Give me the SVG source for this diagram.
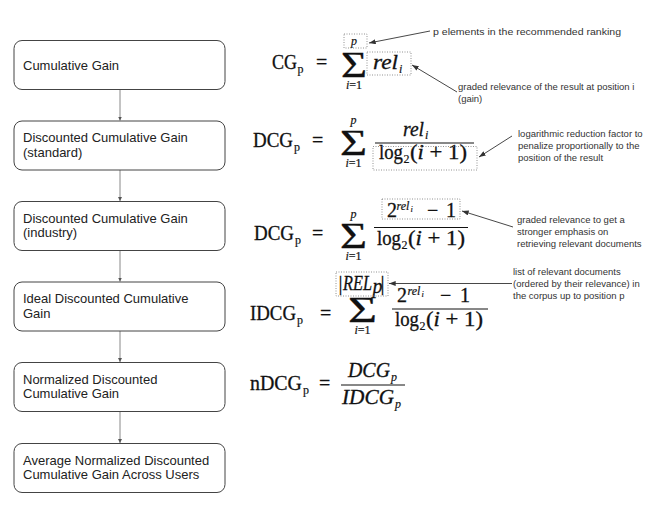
<svg xmlns="http://www.w3.org/2000/svg" width="667" height="514" viewBox="0 0 667 514">
<defs>
<style>
.box{fill:#fff;stroke:#444;stroke-width:1}
.lbl{font-family:"Liberation Sans",Arial,sans-serif;font-size:13px;fill:#222}
.ann{font-family:"Liberation Sans",Arial,sans-serif;font-size:9.5px;fill:#333}
.m{font-family:"Liberation Serif","Times New Roman",serif;font-size:20px;fill:#111;stroke:#111;stroke-width:0.3}
.mi{font-style:italic}
.s{font-size:12px;stroke-width:0.2}
.ss{font-size:8.5px;stroke-width:0.15}
.sig{font-size:36px}
.dot{fill:none;stroke:#777;stroke-width:0.8;stroke-dasharray:1 1.5}
.bar{stroke:#111;stroke-width:1}
.conn{stroke:#888;stroke-width:1;fill:none}
.ptr{stroke:#333;stroke-width:0.9;fill:none}
</style>
<marker id="ah" viewBox="0 0 6 6" refX="6" refY="3" markerWidth="4" markerHeight="4" markerUnits="userSpaceOnUse" orient="auto"><path d="M0,0 L6,3 L0,6 z" fill="#555"/></marker>
<marker id="ph" viewBox="0 0 8 6" refX="8" refY="3" markerWidth="7" markerHeight="5" markerUnits="userSpaceOnUse" orient="auto"><path d="M0,0 L8,3 L0,6 z" fill="#333"/></marker>
</defs>
<rect width="667" height="514" fill="#fff"/>

<g id="connectors">
<line class="conn" x1="120" y1="89.5" x2="120" y2="120.5" marker-end="url(#ah)"/>
<line class="conn" x1="120" y1="170" x2="120" y2="201" marker-end="url(#ah)"/>
<line class="conn" x1="120" y1="250.5" x2="120" y2="281.5" marker-end="url(#ah)"/>
<line class="conn" x1="120" y1="331" x2="120" y2="362" marker-end="url(#ah)"/>
<line class="conn" x1="120" y1="411.5" x2="120" y2="443" marker-end="url(#ah)"/>
<line class="ptr" x1="430" y1="31" x2="369" y2="43" marker-end="url(#ph)"/>
<line class="ptr" x1="457" y1="92" x2="412" y2="65" marker-end="url(#ph)"/>
<line class="ptr" x1="512" y1="136" x2="479" y2="157" marker-end="url(#ph)"/>
<line class="ptr" x1="513" y1="227" x2="462" y2="211" marker-end="url(#ph)"/>
<line class="ptr" x1="512" y1="283.5" x2="389" y2="283.5" marker-end="url(#ph)"/>
</g>

<g id="n1"><rect class="box" x="14" y="40.5" width="211" height="49" rx="8"/><text class="lbl" x="23" y="69.5">Cumulative Gain</text></g>
<g id="n2"><rect class="box" x="14" y="121" width="211" height="49" rx="8"/><text class="lbl" x="23" y="142">Discounted Cumulative Gain</text><text class="lbl" x="23" y="156.5">(standard)</text></g>
<g id="n3"><rect class="box" x="14" y="201.5" width="211" height="49" rx="8"/><text class="lbl" x="23" y="222.5">Discounted Cumulative Gain</text><text class="lbl" x="23" y="237">(industry)</text></g>
<g id="n4"><rect class="box" x="14" y="282" width="211" height="49" rx="8"/><text class="lbl" x="23" y="303">Ideal Discounted Cumulative</text><text class="lbl" x="23" y="317.5">Gain</text></g>
<g id="n5"><rect class="box" x="14" y="362.5" width="211" height="49" rx="8"/><text class="lbl" x="23" y="383.5">Normalized Discounted</text><text class="lbl" x="23" y="398">Cumulative Gain</text></g>
<g id="n6"><rect class="box" x="14" y="443.5" width="211" height="49" rx="8"/><text class="lbl" x="23" y="464.5">Average Normalized Discounted</text><text class="lbl" x="23" y="479">Cumulative Gain Across Users</text></g>

<g id="f1">
<text class="m" x="272" y="69" textLength="25" lengthAdjust="spacingAndGlyphs">CG</text>
<text class="m s" x="297.5" y="73">p</text>
<text class="m" x="316" y="69">=</text>
<text class="m sig" x="341" y="77" textLength="26" lengthAdjust="spacingAndGlyphs">Σ</text>
<text class="m mi s" x="354" y="45" text-anchor="middle">p</text>
<text class="m s" x="354" y="89" text-anchor="middle"><tspan class="mi">i</tspan>=1</text>
<text class="m mi" x="373" y="69" textLength="25" lengthAdjust="spacingAndGlyphs">rel</text>
<text class="m mi s" x="399" y="73">i</text>
<rect class="dot" x="344" y="34" width="23" height="14"/>
<rect class="dot" x="367" y="52" width="44" height="23"/>
</g>

<g id="f2">
<text class="m" x="253" y="147" textLength="40" lengthAdjust="spacingAndGlyphs">DCG</text>
<text class="m s" x="294" y="151">p</text>
<text class="m" x="312" y="147">=</text>
<text class="m sig" x="340" y="155" textLength="27" lengthAdjust="spacingAndGlyphs">Σ</text>
<text class="m mi s" x="353.5" y="124" text-anchor="middle">p</text>
<text class="m s" x="353.5" y="167" text-anchor="middle"><tspan class="mi">i</tspan>=1</text>
<text class="m mi" x="403" y="136" textLength="21" lengthAdjust="spacingAndGlyphs">rel</text>
<text class="m mi s" x="425" y="139">i</text>
<line class="bar" x1="375" y1="143" x2="474" y2="143"/>
<text class="m" x="379" y="159" textLength="24" lengthAdjust="spacingAndGlyphs">log</text>
<text class="m s" x="403.5" y="163">2</text>
<text class="m" x="410" y="159" textLength="57" lengthAdjust="spacingAndGlyphs">(<tspan class="mi">i</tspan> + 1)</text>
<rect class="dot" x="373" y="146.5" width="104" height="23.5"/>
</g>

<g id="f3">
<text class="m" x="254" y="240" textLength="40" lengthAdjust="spacingAndGlyphs">DCG</text>
<text class="m s" x="295" y="244">p</text>
<text class="m" x="312" y="240">=</text>
<text class="m sig" x="340" y="248" textLength="27" lengthAdjust="spacingAndGlyphs">Σ</text>
<text class="m mi s" x="353.5" y="218" text-anchor="middle">p</text>
<text class="m s" x="353.5" y="260" text-anchor="middle"><tspan class="mi">i</tspan>=1</text>
<text class="m" x="387" y="217" font-size="19">2</text>
<text class="m mi s" x="396.5" y="209.5">rel</text>
<text class="m mi ss" x="410.5" y="211.5">i</text>
<text class="m" x="427" y="217">−</text>
<text class="m" x="446" y="217">1</text>
<rect class="dot" x="382" y="199" width="78" height="20"/>
<line class="bar" x1="374" y1="227.5" x2="468" y2="227.5"/>
<text class="m" x="377" y="245" textLength="24" lengthAdjust="spacingAndGlyphs">log</text>
<text class="m s" x="401.5" y="249">2</text>
<text class="m" x="408" y="245" textLength="57" lengthAdjust="spacingAndGlyphs">(<tspan class="mi">i</tspan> + 1)</text>
</g>

<g id="f4">
<text class="m" x="250" y="320" textLength="46" lengthAdjust="spacingAndGlyphs">IDCG</text>
<text class="m s" x="297" y="324">p</text>
<text class="m" x="320" y="320">=</text>
<text class="m sig" x="348" y="322" textLength="29" lengthAdjust="spacingAndGlyphs">Σ</text>
<text class="m s" x="362.5" y="334" text-anchor="middle"><tspan class="mi">i</tspan>=1</text>
<text class="m" x="338.5" y="290" font-size="15">|</text>
<text class="m mi" x="343" y="290" font-size="15" textLength="29" lengthAdjust="spacingAndGlyphs">REL</text>
<text class="m mi" x="372.5" y="293" font-size="10" stroke-width="0.15">p</text>
<text class="m" x="380.5" y="290" font-size="15">|</text>
<rect class="dot" x="336" y="272" width="52" height="24"/>
<text class="m" x="397" y="302">2</text>
<text class="m mi s" x="407.5" y="295">rel</text>
<text class="m mi ss" x="421.5" y="297">i</text>
<text class="m" x="440" y="302">−</text>
<text class="m" x="460" y="302">1</text>
<line class="bar" x1="392" y1="309" x2="488" y2="309"/>
<text class="m" x="395" y="326" textLength="24" lengthAdjust="spacingAndGlyphs">log</text>
<text class="m s" x="419.5" y="330">2</text>
<text class="m" x="426" y="326" textLength="57" lengthAdjust="spacingAndGlyphs">(<tspan class="mi">i</tspan> + 1)</text>
</g>

<g id="f5">
<text class="m" x="250" y="390" textLength="52" lengthAdjust="spacingAndGlyphs">nDCG</text>
<text class="m s" x="303" y="394">p</text>
<text class="m" x="319" y="390">=</text>
<line class="bar" x1="341" y1="385" x2="405" y2="385"/>
<text class="m mi" x="348" y="377" textLength="42" lengthAdjust="spacingAndGlyphs">DCG</text>
<text class="m mi s" x="391" y="381">p</text>
<text class="m mi" x="342" y="404" textLength="52" lengthAdjust="spacingAndGlyphs">IDCG</text>
<text class="m mi s" x="395" y="408">p</text>
</g>

<g id="annotations">
<text class="ann" x="433" y="35" font-size="10" textLength="188" lengthAdjust="spacingAndGlyphs">p elements in the recommended ranking</text>
<text class="ann" x="458" y="90">graded relevance of the result at position i</text>
<text class="ann" x="458" y="102">(gain)</text>
<text class="ann" x="518" y="136.5">logarithmic reduction factor to</text>
<text class="ann" x="518" y="148.5">penalize proportionally to the</text>
<text class="ann" x="518" y="160.5">position of the result</text>
<text class="ann" x="517" y="223">graded relevance to get a</text>
<text class="ann" x="517" y="235">stronger emphasis on</text>
<text class="ann" x="517" y="247">retrieving relevant documents</text>
<text class="ann" x="513" y="275">list of relevant documents</text>
<text class="ann" x="513" y="287">(ordered by their relevance) in</text>
<text class="ann" x="513" y="299">the corpus up to position p</text>
</g>
</svg>
